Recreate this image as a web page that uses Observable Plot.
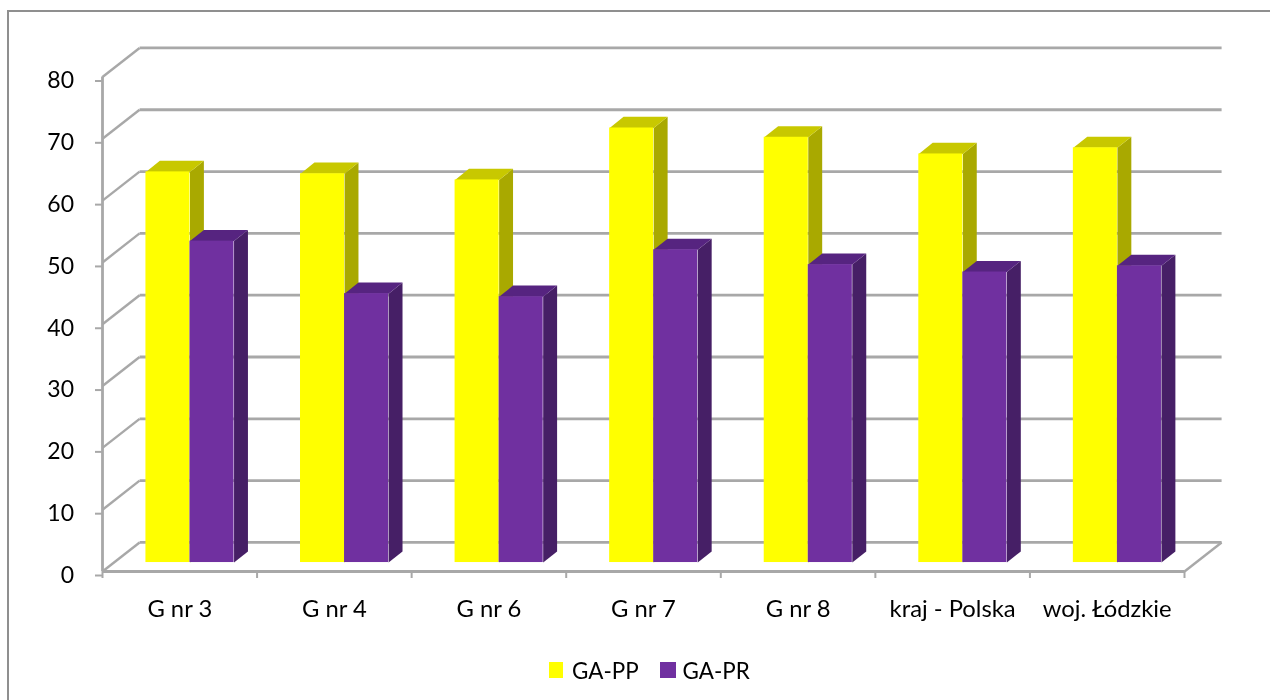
<!DOCTYPE html>
<html lang="pl">
<head>
<meta charset="utf-8">
<script src="https://cdn.jsdelivr.net/npm/d3@7"></script>
<script src="https://cdn.jsdelivr.net/npm/@observablehq/plot@0.6"></script>
<style>
html,body{margin:0;padding:0;background:#fff;overflow:hidden;width:1270px;height:700px}
#frame{position:absolute;left:7px;top:10px;right:0;bottom:0;border-top:2px solid #8f8f8f;border-left:2px solid #8f8f8f;pointer-events:none}
#chart svg{display:block;filter:blur(.6px)}
#legend{position:absolute;left:549px;top:656px;height:28px;display:flex;align-items:center;font:22.4px Lato,sans-serif;color:#000;filter:blur(.4px)}
#legend i{display:inline-block;width:14px;height:16px;margin-right:9px}
#legend i.b{width:16px;margin-right:7px}
#legend span{margin-right:21px}
</style>
</head>
<body>
<div id="chart"></div>
<div id="frame"></div>
<div id="legend"></div>
<script>
const categories = ["G nr 3", "G nr 4", "G nr 6", "G nr 7", "G nr 8", "kraj - Polska", "woj. Łódzkie"];
const gaPP = [63.2, 62.9, 61.9, 70.3, 68.8, 66.1, 67.1];
const gaPR = [52.0, 43.5, 43.0, 50.6, 48.2, 47.0, 48.0];
const yTicks = [0, 10, 20, 30, 40, 50, 60, 70, 80];

const wallDepthX = 0.24, wallDepthY = 4.7;   // depth of the chart box, in axis units
const barDepthX = 0.09, barDepthY = 1.8;     // depth of a bar, in axis units
const barBase = 1.45, barStart = 0.281, barWidth = 0.285;

const yellow = {front: "#ffff00", top: "#c8c800", side: "#a9a900"};
const purple = {front: "#7030a0", top: "#562480", side: "#461f66"};
const gridColor = "#a8a8a8";

function barMarks(values, colors, offset) {
  const bars = values.map((v, i) => ({
    i, v,
    x1: i + barStart + offset * barWidth,
    x2: i + barStart + (offset + 1) * barWidth,
    y1: barBase,
    y2: barBase + v
  }));
  const sides = bars.flatMap(b => [
    {k: b.i, x: b.x2, y: b.y1},
    {k: b.i, x: b.x2 + barDepthX, y: b.y1 + barDepthY},
    {k: b.i, x: b.x2 + barDepthX, y: b.y2 + barDepthY},
    {k: b.i, x: b.x2, y: b.y2}
  ]);
  const tops = bars.flatMap(b => [
    {k: b.i, x: b.x1, y: b.y2},
    {k: b.i, x: b.x1 + barDepthX, y: b.y2 + barDepthY},
    {k: b.i, x: b.x2 + barDepthX, y: b.y2 + barDepthY},
    {k: b.i, x: b.x2, y: b.y2}
  ]);
  return [
    Plot.line(sides, {x: "x", y: "y", z: "k", fill: colors.side, stroke: "none"}),
    Plot.line(tops, {x: "x", y: "y", z: "k", fill: colors.top, stroke: "none"}),
    Plot.rect(bars, {x1: "x1", x2: "x2", y1: "y1", y2: "y2", fill: colors.front})
  ];
}

const n = categories.length;
const chart = Plot.plot({
  width: 1270,
  height: 648,
  marginLeft: 102,
  marginRight: 86,
  marginTop: 76.5,
  marginBottom: 77,
  x: {domain: [0, n], type: "linear"},
  y: {domain: [0, 80]},
  style: {fontFamily: "Lato, sans-serif", color: "#000", background: "transparent", overflow: "visible"},
  marks: [
    // back wall and slanted side wall lines
    Plot.link(yTicks, {x1: wallDepthX, x2: n + wallDepthX, y1: d => d + wallDepthY, y2: d => d + wallDepthY, stroke: gridColor, strokeWidth: 2.8}),
    Plot.link(yTicks, {x1: 0, x2: wallDepthX, y1: d => d, y2: d => d + wallDepthY, stroke: gridColor, strokeWidth: 2.4}),
    Plot.link([0], {x1: n, x2: n + wallDepthX, y1: 0, y2: wallDepthY, stroke: gridColor, strokeWidth: 2.4}),
    // front axis lines
    Plot.ruleX([0], {y1: 0, y2: 80, stroke: gridColor, strokeWidth: 2.8}),
    Plot.ruleY([0], {x1: 0, x2: n, stroke: gridColor, strokeWidth: 2.8}),
    // axes
    Plot.axisY(yTicks, {anchor: "left", tickSize: 7, tickPadding: 21.5, stroke: gridColor, strokeWidth: 2, fontSize: 23, dy: 4, label: null}),
    Plot.axisX(d3.range(n + 1), {anchor: "bottom", tickSize: 7, stroke: gridColor, strokeWidth: 2, tickFormat: () => "", label: null}),
    Plot.axisX(categories.map((c, i) => i + 0.5), {anchor: "bottom", tickSize: 0, tickPadding: 29, fontSize: 23.8, tickFormat: d => categories[d - 0.5], label: null}),
    // bars
    ...barMarks(gaPP, yellow, 0),
    ...barMarks(gaPR, purple, 1)
  ]
});
document.getElementById("chart").append(chart);

const legend = document.getElementById("legend");
[["GA-PP", yellow.front, ""], ["GA-PR", purple.front, "b"]].forEach(([name, color, cls]) => {
  const swatch = document.createElement("i");
  swatch.style.background = color;
  swatch.className = cls;
  const label = document.createElement("span");
  label.textContent = name;
  legend.append(swatch, label);
});
</script>
</body>
</html>
